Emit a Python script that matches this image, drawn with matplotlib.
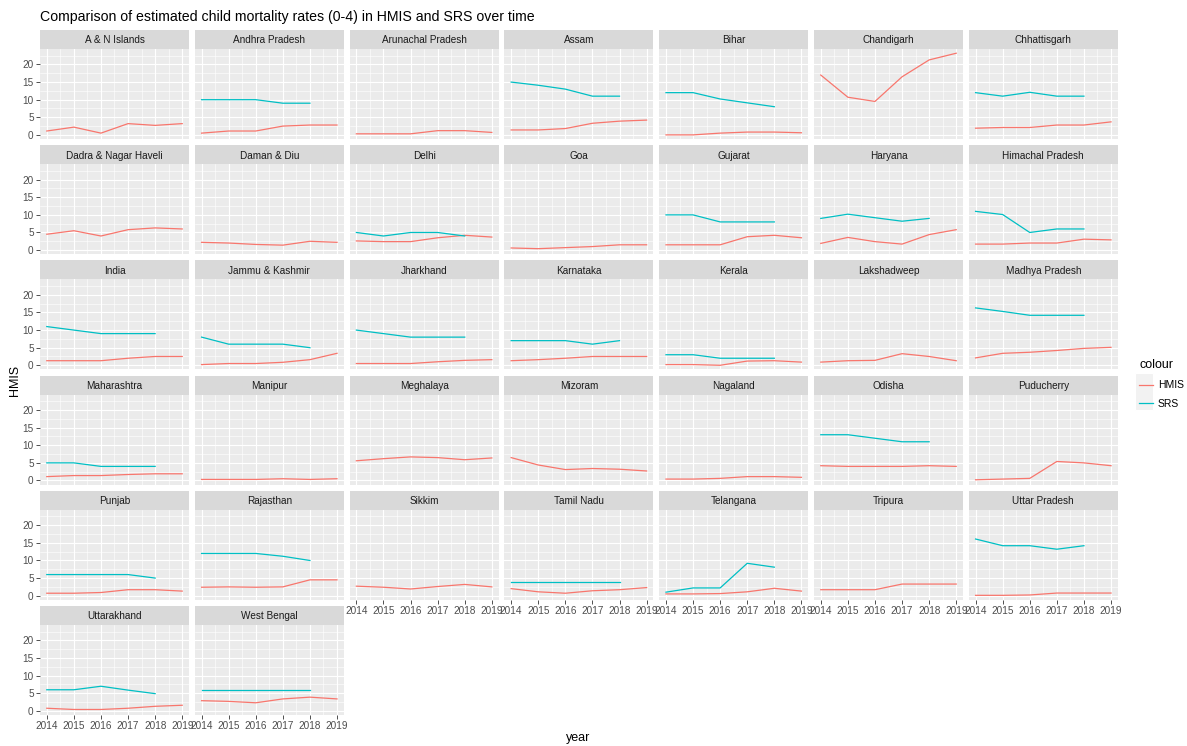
import matplotlib.pyplot as plt
from matplotlib.patches import Rectangle
from matplotlib.lines import Line2D

plt.rcParams['font.family'] = ['Liberation Sans', 'DejaVu Sans']

years = [2014, 2015, 2016, 2017, 2018, 2019]
srs_years = [2014, 2015, 2016, 2017, 2018]

states = ['A & N Islands', 'Andhra Pradesh', 'Arunachal Pradesh', 'Assam', 'Bihar',
          'Chandigarh', 'Chhattisgarh', 'Dadra & Nagar Haveli', 'Daman & Diu', 'Delhi',
          'Goa', 'Gujarat', 'Haryana', 'Himachal Pradesh', 'India', 'Jammu & Kashmir',
          'Jharkhand', 'Karnataka', 'Kerala', 'Lakshadweep', 'Madhya Pradesh',
          'Maharashtra', 'Manipur', 'Meghalaya', 'Mizoram', 'Nagaland', 'Odisha',
          'Puducherry', 'Punjab', 'Rajasthan', 'Sikkim', 'Tamil Nadu', 'Telangana',
          'Tripura', 'Uttar Pradesh', 'Uttarakhand', 'West Bengal']

hmis = [
    [1.1, 2.2, 0.5, 3.2, 2.7, 3.2],     # A & N Islands
    [0.5, 1.1, 1.1, 2.5, 2.8, 2.8],     # Andhra Pradesh
    [0.3, 0.3, 0.3, 1.2, 1.2, 0.7],     # Arunachal Pradesh
    [1.4, 1.4, 1.8, 3.3, 3.9, 4.2],     # Assam
    [0.0, 0.0, 0.5, 0.8, 0.8, 0.6],     # Bihar
    [17.0, 10.7, 9.5, 16.5, 21.3, 23.2],  # Chandigarh
    [1.9, 2.1, 2.1, 2.8, 2.8, 3.7],     # Chhattisgarh
    [4.5, 5.5, 4.0, 5.8, 6.3, 6.0],     # Dadra & Nagar Haveli
    [2.2, 2.0, 1.6, 1.4, 2.5, 2.2],     # Daman & Diu
    [2.6, 2.4, 2.4, 3.5, 4.2, 3.7],     # Delhi
    [0.6, 0.4, 0.7, 1.0, 1.5, 1.5],     # Goa
    [1.5, 1.5, 1.5, 3.8, 4.2, 3.5],     # Gujarat
    [1.9, 3.6, 2.4, 1.7, 4.4, 5.8],     # Haryana
    [1.7, 1.7, 2.0, 2.0, 3.1, 2.9],     # Himachal Pradesh
    [1.3, 1.3, 1.3, 2.0, 2.5, 2.5],     # India
    [0.2, 0.5, 0.5, 0.85, 1.6, 3.4],    # Jammu & Kashmir
    [0.5, 0.5, 0.5, 1.0, 1.4, 1.6],     # Jharkhand
    [1.3, 1.6, 2.0, 2.5, 2.5, 2.5],     # Karnataka
    [0.2, 0.2, 0.0, 1.2, 1.3, 0.9],     # Kerala
    [0.9, 1.3, 1.4, 3.3, 2.5, 1.3],     # Lakshadweep
    [2.1, 3.4, 3.7, 4.2, 4.8, 5.1],     # Madhya Pradesh
    [1.1, 1.4, 1.4, 1.7, 1.9, 1.9],     # Maharashtra
    [0.3, 0.3, 0.3, 0.5, 0.3, 0.5],     # Manipur
    [5.6, 6.2, 6.7, 6.5, 5.9, 6.4],     # Meghalaya
    [6.5, 4.4, 3.1, 3.4, 3.2, 2.7],     # Mizoram
    [0.4, 0.4, 0.6, 1.1, 1.1, 0.9],     # Nagaland
    [4.2, 4.0, 4.0, 4.0, 4.2, 4.0],     # Odisha
    [0.2, 0.4, 0.6, 5.4, 5.0, 4.2],     # Puducherry
    [0.7, 0.7, 0.9, 1.7, 1.7, 1.3],     # Punjab
    [2.4, 2.5, 2.4, 2.5, 4.5, 4.5],     # Rajasthan
    [2.7, 2.4, 1.9, 2.6, 3.2, 2.5],     # Sikkim
    [2.0, 1.1, 0.7, 1.4, 1.7, 2.3],     # Tamil Nadu
    [0.5, 0.5, 0.6, 1.1, 2.1, 1.3],     # Telangana
    [1.7, 1.7, 1.7, 3.3, 3.3, 3.3],     # Tripura
    [0.1, 0.1, 0.2, 0.75, 0.75, 0.75],  # Uttar Pradesh
    [0.75, 0.4, 0.4, 0.75, 1.3, 1.6],   # Uttarakhand
    [2.9, 2.7, 2.3, 3.4, 3.9, 3.4],     # West Bengal
]

srs = [
    None, [10, 10, 10, 9, 9], None, [15, 14.1, 13, 11, 11], [12, 12, 10.2, 9.1, 8],
    None, [12, 11, 12.1, 11, 11], None, None, [5, 4, 5, 5, 4],
    None, [10, 10, 8, 8, 8], [9, 10.2, 9.2, 8.2, 9], [11, 10.1, 5, 6, 6],
    [11, 10, 9, 9, 9], [8, 6, 6, 6, 5], [10, 9, 8, 8, 8], [7, 7, 7, 6, 7],
    [3, 3, 2, 2, 2], None, [16.3, 15.3, 14.2, 14.2, 14.2], [5, 5, 4, 4, 4],
    None, None, None, None, [13, 13, 12, 11, 11], None, [6, 6, 6, 6, 5],
    [12, 12, 12, 11.2, 10], None, [4, 4, 4, 4, 4], [1, 2.2, 2.2, 9.2, 8.1],
    None, [16.1, 14.2, 14.2, 13.2, 14.2], [6, 6, 7, 5.9, 4.9], [6, 6, 6, 6, 6],
]

W, H = 1187, 746
fig = plt.figure(figsize=(W / 100, H / 100), dpi=100)

hmis_col = '#F8766D'
srs_col = '#00BFC4'
left0, pitch_x, pw = 40, 154.8, 149
top0, pitch_y, sh, ph = 30, 115.2, 19, 90
n = len(states)

for i, name in enumerate(states):
    r, c = divmod(i, 7)
    x = left0 + c * pitch_x
    yt = top0 + r * pitch_y

    # facet strip
    st = fig.add_axes([x / W, 1 - (yt + sh) / H, pw / W, sh / H])
    st.set_facecolor('#D9D9D9')
    st.set_xticks([]); st.set_yticks([])
    for s in st.spines.values():
        s.set_visible(False)
    st.text(0.5, 0.45, name, ha='center', va='center', fontsize=7.2, color='#1A1A1A',
            transform=st.transAxes)

    ax = fig.add_axes([x / W, 1 - (yt + sh + ph) / H, pw / W, ph / H])
    ax.set_facecolor('#EBEBEB')
    for s in ax.spines.values():
        s.set_visible(False)
    ax.set_xlim(2013.75, 2019.25)
    ax.set_ylim(-1.17, 24.4)
    ax.set_xticks(years)
    ax.set_xticks([y + 0.5 for y in years[:-1]], minor=True)
    ax.set_yticks([0, 5, 10, 15, 20])
    ax.set_yticks([2.5, 7.5, 12.5, 17.5, 22.5], minor=True)
    ax.grid(which='major', color='white', lw=0.8)
    ax.grid(which='minor', color='white', lw=0.4)
    ax.set_axisbelow(True)
    ax.tick_params(which='minor', length=0)
    ax.tick_params(which='major', direction='out', length=3, width=0.6, color='#333333',
                   labelsize=7.2, labelcolor='#4D4D4D', pad=1.5)
    show_x = i + 7 >= n
    show_y = c == 0
    ax.tick_params(axis='x', bottom=show_x, labelbottom=show_x)
    ax.tick_params(axis='y', left=show_y, labelleft=show_y)

    ax.plot(years, hmis[i], color=hmis_col, lw=0.9)
    if srs[i] is not None:
        ax.plot(srs_years, srs[i], color=srs_col, lw=0.9)

fig.text(40 / W, 1 - 17 / H,
         'Comparison of estimated child mortality rates (0-4) in HMIS and SRS over time',
         fontsize=10.2, va='center', ha='left', color='black')
fig.text(15 / W, 1 - 380 / H, 'HMIS', rotation=90, fontsize=9, va='center', ha='center')
fig.text(578 / W, 1 - 738 / H, 'year', fontsize=9, va='center', ha='center')

# legend
fig.patches.append(Rectangle((1135 / W, 1 - 410 / H), 18 / W, 37 / H, transform=fig.transFigure,
                             facecolor='#F2F2F2', edgecolor='white', lw=0.8))
handles = [Line2D([], [], color=hmis_col, lw=0.9), Line2D([], [], color=srs_col, lw=0.9)]
fig.legend(handles, ['HMIS', 'SRS'], title='colour', loc='upper left',
           bbox_to_anchor=(1132 / W, 1 - 352 / H), frameon=False, fontsize=7.5,
           title_fontsize=9, handlelength=1.3, handletextpad=0.5, labelspacing=0.85,
           alignment='left', borderpad=0.2)

fig.savefig('out.png', dpi=100)
